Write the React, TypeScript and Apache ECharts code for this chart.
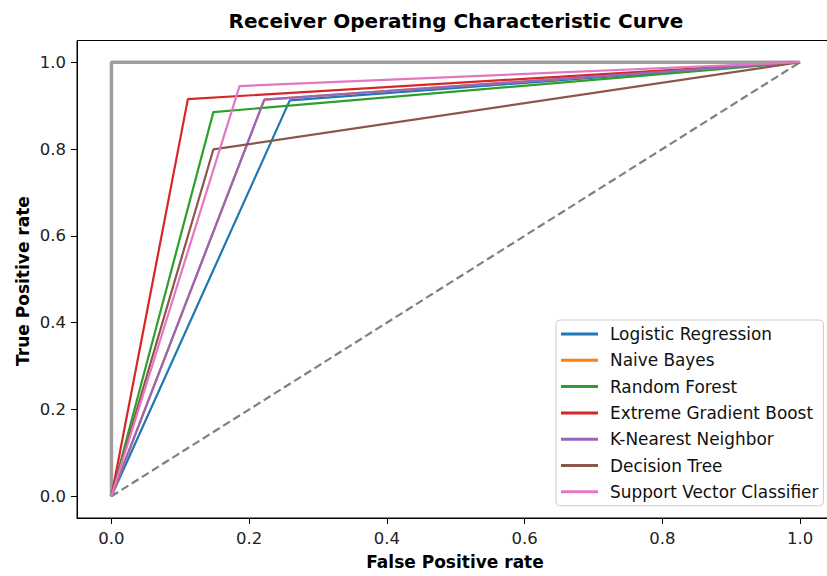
import React, { useEffect, useRef } from "react";
import * as echarts from "echarts";

const models = [
  "Logistic Regression",
  "Naive Bayes",
  "Random Forest",
  "Extreme Gradient Boost",
  "K-Nearest Neighbor",
  "Decision Tree",
  "Support Vector Classifier",
];
const colors = ["#1f77b4", "#ff7f0e", "#2ca02c", "#d62728", "#9467bd", "#8c564b", "#e377c2"];
// ROC knee points (FPR, TPR); each curve runs (0,0) -> knee -> (1,1)
const kneeFPR = [0.259, 0.222, 0.148, 0.111, 0.222, 0.148, 0.186];
const kneeTPR = [0.912, 0.914, 0.885, 0.915, 0.914, 0.799, 0.945];
const perfectLine = [[0, 0], [0, 1], [1, 1]];
const chanceLine = [[0, 0], [1, 1]];
const tickValues = [0, 0.2, 0.4, 0.6, 0.8, 1.0];

const FONT = "'DejaVu Sans', sans-serif";

export default function App() {
  const ref = useRef<HTMLDivElement>(null);
  useEffect(() => {
    if (!ref.current) return;
    const chart = echarts.init(ref.current, null, { renderer: "svg" });
    const curveSeries = models.map((name, i) => ({
      name,
      type: "line",
      data: [[0, 0], [kneeFPR[i], kneeTPR[i]], [1, 1]],
      symbol: "none",
      lineStyle: { color: colors[i], width: 2.2 },
      itemStyle: { color: colors[i] },
      z: 3 + i,
    }));
    const axisCommon = {
      type: "value",
      min: -0.05,
      max: 1.05,
      splitLine: { show: false },
      axisLine: { show: true, onZero: false, lineStyle: { color: "#000", width: 1 } },
      axisTick: { show: true, length: 6, inside: false, customValues: tickValues, lineStyle: { color: "#000" } },
      axisLabel: {
        customValues: tickValues,
        formatter: (v: number) => v.toFixed(1),
        color: "#222",
        fontFamily: FONT,
        fontSize: 16.5,
      },
    };
    chart.setOption({
      animation: false,
      backgroundColor: "#fff",
      grid: {
        left: 77,
        top: 40.5,
        width: 757.5,
        height: 477.5,
        show: true,
        borderColor: "#000",
        borderWidth: 1,
        containLabel: false,
      },
      xAxis: { ...axisCommon, axisLabel: { ...axisCommon.axisLabel, margin: 12 } },
      yAxis: { ...axisCommon, axisLabel: { ...axisCommon.axisLabel, margin: 11 } },
      legend: {
        data: models,
        orient: "vertical",
        left: 556,
        top: 320,
        icon: "rect",
        itemWidth: 37,
        itemHeight: 3,
        itemGap: 8.3,
        padding: [5, 5, 5, 5],
        backgroundColor: "rgba(255,255,255,0.8)",
        borderColor: "#cccccc",
        borderWidth: 1,
        borderRadius: 4,
        textStyle: { fontFamily: FONT, fontSize: 16.9, color: "#111", lineHeight: 18, padding: [0, 0, 0, 7] },
      },
      graphic: [
        {
          type: "text",
          x: 456,
          y: 21,
          style: {
            text: "Receiver Operating Characteristic Curve",
            font: `bold 20px ${FONT}`,
            fill: "#000",
            align: "center",
            verticalAlign: "middle",
          },
        },
        {
          type: "text",
          x: 455,
          y: 562,
          style: {
            text: "False Positive rate",
            font: `bold 17px ${FONT}`,
            fill: "#000",
            align: "center",
            verticalAlign: "middle",
          },
        },
        {
          type: "text",
          x: 23,
          y: 281,
          rotation: Math.PI / 2,
          style: {
            text: "True Positive rate",
            font: `bold 17px ${FONT}`,
            fill: "#000",
            align: "center",
            verticalAlign: "middle",
          },
        },
      ],
      series: [
        {
          name: "perfect",
          type: "line",
          data: perfectLine,
          symbol: "none",
          lineStyle: { color: "#9e9e9e", width: 3.5 },
          z: 1,
        },
        {
          name: "chance",
          type: "line",
          data: chanceLine,
          symbol: "none",
          lineStyle: { color: "#808080", width: 2.2, type: [8, 4] },
          z: 2,
        },
        ...curveSeries,
      ],
    });
    return () => chart.dispose();
  }, []);
  return (
    <div style={{ position: "fixed", left: 0, top: 0, width: 827, height: 576, overflow: "hidden", background: "#fff" }}>
      <div ref={ref} style={{ width: 845, height: 576 }} />
    </div>
  );
}
